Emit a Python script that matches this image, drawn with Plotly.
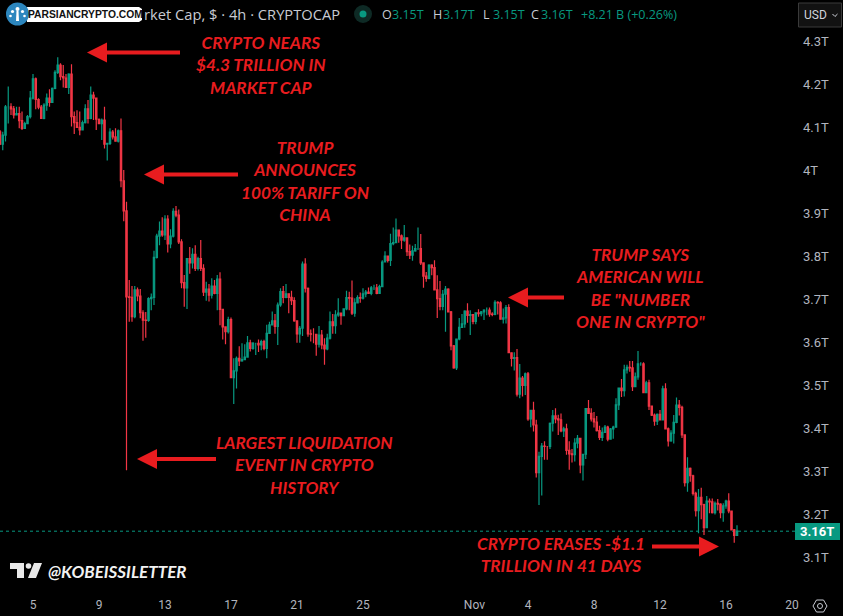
import pandas as pd
import plotly.graph_objects as go

W, H = 843, 616

# 4-hour closes of total crypto market cap, in trillions of USD
closes = [
    4.060,4.081,4.147,4.147,4.142,4.128,4.131,4.115,4.097,4.108,
    4.124,4.167,4.212,4.164,4.146,4.120,4.151,4.167,4.157,4.190,
    4.227,4.244,4.217,4.214,4.192,4.223,4.124,4.110,4.099,4.093,
    4.110,4.142,4.120,4.174,4.167,4.118,4.108,4.116,4.060,4.062,
    4.088,4.077,4.067,4.091,3.975,3.905,3.705,3.704,3.659,3.721,
    3.707,3.668,3.651,3.650,3.701,3.704,3.797,3.846,3.858,3.849,
    3.886,3.828,3.846,3.904,3.895,3.833,3.738,3.726,3.794,3.784,
    3.804,3.771,3.794,3.771,3.716,3.723,3.709,3.730,3.713,3.746,
    3.676,3.635,3.624,3.652,3.517,3.533,3.562,3.556,3.559,3.565,
    3.598,3.585,3.597,3.597,3.593,3.601,3.585,3.620,3.640,3.649,
    3.636,3.686,3.717,3.704,3.712,3.704,3.696,3.649,3.619,3.632,
    3.781,3.725,3.619,3.618,3.618,3.595,3.616,3.593,3.584,3.609,
    3.647,3.638,3.663,3.667,3.661,3.677,3.703,3.702,3.667,3.691,
    3.703,3.702,3.712,3.716,3.713,3.726,3.726,3.713,3.729,3.786,
    3.800,3.790,3.829,3.831,3.860,3.847,3.837,3.842,3.810,3.802,
    3.812,3.817,3.817,3.784,3.753,3.748,3.779,3.773,3.721,3.701,
    3.683,3.711,3.723,3.670,3.591,3.540,3.607,3.634,3.642,3.672,
    3.662,3.664,3.648,3.668,3.666,3.670,3.674,3.674,3.665,3.664,
    3.692,3.691,3.653,3.656,3.680,3.575,3.562,3.564,3.479,3.516,
    3.499,3.526,3.421,3.441,3.407,3.296,3.334,3.358,3.357,3.357,
    3.411,3.428,3.421,3.419,3.393,3.398,3.348,3.340,3.338,3.365,
    3.376,3.314,3.339,3.445,3.434,3.421,3.414,3.394,3.378,3.390,
    3.402,3.374,3.398,3.402,3.454,3.493,3.487,3.535,3.541,3.540,
    3.496,3.519,3.549,3.549,3.482,3.505,3.451,3.430,3.416,3.432,
    3.419,3.491,3.398,3.370,3.388,3.413,3.453,3.448,3.384,3.273,
    3.306,3.289,3.248,3.208,3.239,3.222,3.168,3.230,3.228,3.203,
    3.225,3.223,3.203,3.219,3.230,3.207,3.163,3.150,3.160,
]
highs = [
    4.093,4.089,4.151,4.194,4.155,4.149,4.147,4.147,4.136,4.112,
    4.128,4.184,4.223,4.215,4.167,4.151,4.155,4.178,4.188,4.192,
    4.232,4.262,4.248,4.244,4.223,4.225,4.246,4.136,4.139,4.136,
    4.115,4.153,4.163,4.194,4.182,4.168,4.120,4.120,4.147,4.062,
    4.097,4.093,4.097,4.094,4.120,4.000,3.926,3.744,3.730,3.730,
    3.727,3.723,3.674,3.670,3.704,3.713,3.812,3.852,3.880,3.890,
    3.895,3.895,3.862,3.911,3.916,3.908,3.839,3.756,3.794,3.821,
    3.818,3.825,3.798,3.837,3.781,3.740,3.735,3.748,3.744,3.756,
    3.762,3.677,3.635,3.659,3.657,3.562,3.566,3.590,3.597,3.595,
    3.614,3.605,3.600,3.598,3.606,3.605,3.605,3.640,3.647,3.671,
    3.665,3.692,3.725,3.730,3.735,3.713,3.719,3.704,3.649,3.637,
    3.787,3.795,3.727,3.629,3.632,3.618,3.637,3.628,3.609,3.619,
    3.671,3.665,3.674,3.702,3.668,3.677,3.719,3.717,3.743,3.702,
    3.709,3.715,3.725,3.721,3.727,3.730,3.733,3.735,3.733,3.790,
    3.811,3.800,3.852,3.866,3.887,3.860,3.850,3.872,3.842,3.827,
    3.824,3.828,3.866,3.851,3.784,3.763,3.781,3.781,3.790,3.755,
    3.742,3.721,3.730,3.725,3.672,3.593,3.608,3.656,3.665,3.674,
    3.690,3.674,3.662,3.669,3.676,3.672,3.676,3.680,3.680,3.669,
    3.697,3.695,3.695,3.678,3.686,3.688,3.576,3.576,3.584,3.549,
    3.521,3.529,3.530,3.442,3.461,3.419,3.345,3.365,3.369,3.358,
    3.413,3.442,3.446,3.431,3.434,3.403,3.410,3.369,3.351,3.376,
    3.384,3.376,3.339,3.445,3.465,3.446,3.437,3.428,3.405,3.401,
    3.407,3.405,3.400,3.405,3.469,3.494,3.514,3.547,3.547,3.556,
    3.556,3.529,3.579,3.553,3.553,3.510,3.512,3.452,3.434,3.434,
    3.442,3.498,3.504,3.401,3.395,3.430,3.471,3.465,3.452,3.385,
    3.332,3.308,3.291,3.252,3.258,3.261,3.224,3.242,3.236,3.236,
    3.229,3.235,3.225,3.225,3.233,3.248,3.207,3.165,3.174,
]
lows = [
    4.058,4.046,4.066,4.108,4.128,4.120,4.128,4.097,4.093,4.097,
    4.107,4.120,4.164,4.141,4.141,4.120,4.118,4.138,4.147,4.157,
    4.188,4.223,4.209,4.192,4.192,4.177,4.101,4.084,4.099,4.081,
    4.093,4.108,4.108,4.118,4.116,4.093,4.107,4.070,4.050,4.022,
    4.058,4.071,4.066,4.064,3.960,3.881,3.302,3.647,3.647,3.655,
    3.695,3.655,3.603,3.610,3.647,3.674,3.686,3.794,3.825,3.845,
    3.837,3.808,3.818,3.843,3.890,3.828,3.725,3.682,3.677,3.759,
    3.771,3.765,3.766,3.765,3.707,3.696,3.694,3.701,3.711,3.674,
    3.639,3.606,3.595,3.620,3.517,3.456,3.492,3.544,3.554,3.558,
    3.567,3.578,3.582,3.570,3.577,3.581,3.581,3.562,3.619,3.640,
    3.619,3.593,3.682,3.690,3.702,3.667,3.686,3.647,3.598,3.598,
    3.614,3.715,3.612,3.601,3.597,3.568,3.587,3.583,3.547,3.581,
    3.606,3.619,3.619,3.659,3.640,3.660,3.674,3.674,3.663,3.659,
    3.690,3.691,3.699,3.704,3.712,3.709,3.721,3.711,3.712,3.728,
    3.785,3.785,3.777,3.825,3.849,3.831,3.816,3.833,3.800,3.793,
    3.789,3.810,3.814,3.779,3.726,3.740,3.746,3.755,3.721,3.656,
    3.674,3.674,3.624,3.670,3.581,3.538,3.535,3.604,3.633,3.633,
    3.645,3.616,3.641,3.641,3.659,3.660,3.651,3.662,3.659,3.660,
    3.662,3.664,3.653,3.643,3.643,3.575,3.543,3.534,3.473,3.469,
    3.473,3.477,3.417,3.402,3.392,3.285,3.221,3.243,3.326,3.326,
    3.351,3.392,3.411,3.384,3.390,3.379,3.338,3.303,3.320,3.322,
    3.353,3.295,3.278,3.328,3.434,3.415,3.401,3.392,3.372,3.370,
    3.389,3.369,3.374,3.375,3.401,3.442,3.472,3.473,3.527,3.531,
    3.486,3.495,3.512,3.545,3.481,3.481,3.442,3.428,3.405,3.407,
    3.419,3.419,3.398,3.357,3.368,3.364,3.411,3.429,3.377,3.264,
    3.252,3.275,3.243,3.194,3.155,3.188,3.151,3.168,3.202,3.201,
    3.199,3.208,3.190,3.182,3.212,3.202,3.163,3.133,3.150,
]
first_open = 4.089
last_price = 3.16

price_ticks = [3.1, 3.2, 3.3, 3.4, 3.5, 3.6, 3.7, 3.8, 3.9, 4.0, 4.1, 4.2, 4.3]
price_labels = ["3.1T", "3.2T", "3.3T", "3.4T", "3.5T", "3.6T", "3.7T",
                "3.8T", "3.9T", "4T", "4.1T", "4.2T", "4.3T"]
date_ticks = ["2025-10-05", "2025-10-09", "2025-10-13", "2025-10-17", "2025-10-21",
              "2025-10-25", "2025-10-31 18:00", "2025-11-04", "2025-11-08", "2025-11-12",
              "2025-11-16", "2025-11-20"]
date_labels = ["5", "9", "13", "17", "21", "25", "Nov", "4", "8", "12", "16", "20"]

header_letters = ["O", "H", "L", "C"]
header_values = ["3.15T", "3.17T", "3.15T", "3.16T"]
header_change = "+8.21 B (+0.26%)"

callouts = [
    ("CRYPTO NEARS<br>$4.3 TRILLION IN<br>MARKET CAP", 261, 65),
    ("TRUMP<br>ANNOUNCES<br>100% TARIFF ON<br>CHINA", 305, 181),
    ('TRUMP SAYS<br>AMERICAN WILL<br>BE "NUMBER<br>ONE IN CRYPTO"', 640, 288),
    ("LARGEST LIQUIDATION<br>EVENT IN CRYPTO<br>HISTORY", 304, 465),
    ("CRYPTO ERASES -$1.1<br>TRILLION IN 41 DAYS", 561, 554),
]
# tip x, tail x, y of each callout arrow
arrows = [(87, 180, 52.5), (144, 238, 174.5), (508, 564, 297.5), (137, 216, 459), (719, 652, 546.5)]

TEAL = "#089981"
RED = "#F23645"
CALLOUT_RED = "#E81C1F"
AXIS_GREY = "#B2B5BE"
PLOT_RIGHT, PLOT_BOTTOM = 795, 590
PX_PER_UNIT, TOP_PX, TOP_VALUE = 430, 41, 4.3

dates = pd.date_range("2025-10-03", periods=len(closes), freq="4h")
opens = [first_open] + closes[:-1]


def px(x):
    return x / W


def py(y):
    return 1 - y / H


def path(points, close=True):
    d = "M" + " L".join(f"{px(x):.5f},{py(y):.5f}" for x, y in points)
    return d + (" Z" if close else "")


def circle(cx, cy, r, **style):
    return dict(type="circle", xref="paper", yref="paper", x0=px(cx - r), x1=px(cx + r),
                y0=py(cy + r), y1=py(cy - r), **style)


fig = go.Figure(go.Candlestick(
    x=dates, open=opens, high=highs, low=lows, close=closes,
    increasing=dict(line=dict(color=TEAL, width=1.2), fillcolor=TEAL),
    decreasing=dict(line=dict(color=RED, width=1.2), fillcolor=RED),
    whiskerwidth=0, hoverinfo="skip",
))

shapes = []
annotations = []

# price line for the last close
shapes.append(dict(type="line", xref="paper", yref="y", x0=0, x1=px(PLOT_RIGHT),
                   y0=last_price, y1=last_price, line=dict(color=TEAL, width=1, dash="dot"),
                   layer="below"))

# callout arrows
for tip, tail, y in arrows:
    s = 1 if tail > tip else -1
    base = tip + s * 20
    shapes.append(dict(type="path", xref="paper", yref="paper", fillcolor=CALLOUT_RED,
                       line=dict(width=0),
                       path=path([(tip, y), (base, y - 10), (base, y - 2), (tail, y - 2),
                                  (tail, y + 2), (base, y + 2), (base, y + 10)])))

for text, cx, cy in callouts:
    annotations.append(dict(text=text, x=px(cx), y=py(cy), xref="paper", yref="paper",
                            showarrow=False, xanchor="center", yanchor="middle", align="center",
                            font=dict(family="Lato, sans-serif", size=17.2, color=CALLOUT_RED,
                                      weight="bold", style="italic")))

# header strip
UI_FONT = "Roboto, sans-serif"
annotations.append(dict(text="rket Cap, $ · 4h · CRYPTOCAP", x=px(142), y=py(14.5), xref="paper",
                        yref="paper", showarrow=False, xanchor="left", yanchor="middle",
                        font=dict(family="'Open Sans', sans-serif", size=14.7, color="#C8CBD3")))
shapes.append(circle(363, 14, 9, fillcolor="#0E2A25", line=dict(width=0)))
shapes.append(circle(363, 14, 3.5, fillcolor=TEAL, line=dict(width=0)))
for letter, value, lx in zip(header_letters, header_values, [380, 431, 481, 529]):
    annotations.append(dict(text=letter, x=px(lx), y=py(14.5), xref="paper", yref="paper",
                            showarrow=False, xanchor="left", yanchor="middle",
                            font=dict(family="'Open Sans', sans-serif", size=12.5, color="#C8CBD3")))
    annotations.append(dict(text=value, x=px(lx + 10), y=py(14.5), xref="paper", yref="paper",
                            showarrow=False, xanchor="left", yanchor="middle",
                            font=dict(family="'Open Sans', sans-serif", size=12.5, color=TEAL)))
annotations.append(dict(text=header_change, x=px(579), y=py(14.5), xref="paper", yref="paper",
                        showarrow=False, xanchor="left", yanchor="middle",
                        font=dict(family="'Open Sans', sans-serif", size=12.5, color=TEAL)))

# watermark pill over the start of the title
shapes.append(dict(type="path", xref="paper", yref="paper", fillcolor="#FFFFFF", line=dict(width=0),
                   path=path([(27, 7), (139, 7), (142, 9), (142, 20), (139, 22), (27, 22)])))
shapes.append(circle(17.5, 14, 11.5, fillcolor="#2C86BE", line=dict(width=0)))
for cx, cy, r in [(17.5, 9, 2), (12.5, 11.5, 1.6), (22.5, 11.5, 1.6), (10.5, 16, 1.3), (24.5, 16, 1.3)]:
    shapes.append(circle(cx, cy, r, fillcolor="#FFFFFF", line=dict(width=0)))
shapes.append(dict(type="path", xref="paper", yref="paper", fillcolor="#FFFFFF", line=dict(width=0),
                   path=path([(16.5, 11), (18.5, 11), (19, 21), (16, 21)])))
annotations.append(dict(text="PARSIANCRYPTO.COM", x=px(85), y=py(14.7), xref="paper", yref="paper",
                        showarrow=False, xanchor="center", yanchor="middle",
                        font=dict(family="Liberation Sans", size=10.3, color="#111111", weight="bold")))

# currency selector
shapes.append(dict(type="rect", xref="paper", yref="paper", x0=px(798.5), x1=px(841.5), y0=py(27), y1=py(3),
                   fillcolor="#121212", line=dict(color="#3A3A3A", width=1)))
annotations.append(dict(text="USD", x=px(802), y=py(15), xref="paper", yref="paper", showarrow=False,
                        xanchor="left", yanchor="middle",
                        font=dict(family=UI_FONT, size=12, color="#D1D4DC")))
shapes.append(dict(type="path", xref="paper", yref="paper", line=dict(color="#D1D4DC", width=1),
                   path=path([(832.5, 14), (835, 16.5), (837.5, 14)], close=False)))

# last-price tag
shapes.append(dict(type="rect", xref="paper", yref="paper", x0=px(795), x1=px(840), y0=py(540), y1=py(523),
                   fillcolor=TEAL, line=dict(width=0)))
annotations.append(dict(text="3.16T", x=px(817), y=py(531.5), xref="paper", yref="paper", showarrow=False,
                        xanchor="center", yanchor="middle",
                        font=dict(family=UI_FONT, size=13, color="#FFFFFF", weight="bold")))

# branding mark and handle
shapes.append(dict(type="path", xref="paper", yref="paper", fillcolor="#E8E8E8", line=dict(width=0),
                   path=path([(10, 563), (24, 563), (24, 578), (17, 578), (17, 569), (10, 569)])))
shapes.append(circle(28.5, 566, 2.8, fillcolor="#E8E8E8", line=dict(width=0)))
shapes.append(dict(type="path", xref="paper", yref="paper", fillcolor="#E8E8E8", line=dict(width=0),
                   path=path([(34, 563), (42, 563), (36, 578), (28, 578)])))
annotations.append(dict(text="@KOBEISSILETTER", x=px(46), y=py(571), xref="paper", yref="paper",
                        showarrow=False, xanchor="left", yanchor="middle",
                        font=dict(family="Lato, sans-serif", size=17, color="#F2F2F2",
                                  weight="bold", style="italic")))

# settings icon
shapes.append(dict(type="path", xref="paper", yref="paper", line=dict(color="#C8CBD3", width=1),
                   path=path([(813, 606), (816.5, 600), (823.5, 600), (827, 606), (823.5, 612), (816.5, 612)])))
shapes.append(circle(820, 606, 2.5, line=dict(color="#C8CBD3", width=1)))

fig.update_layout(
    width=W, height=H, margin=dict(l=0, r=0, t=0, b=0),
    paper_bgcolor="#000000", plot_bgcolor="#000000", showlegend=False,
    shapes=shapes, annotations=annotations,
    xaxis=dict(type="date", domain=[0, px(PLOT_RIGHT)], automargin=False,
               range=[pd.Timestamp("2025-10-03"), pd.Timestamp("2025-10-03") + pd.Timedelta(days=PLOT_RIGHT / 16.5)],
               rangeslider=dict(visible=False), showgrid=False, zeroline=False, showline=False,
               ticks="", tickmode="array", tickvals=date_ticks, ticktext=date_labels,
               ticklabelstandoff=6, tickfont=dict(family=UI_FONT, size=12, color=AXIS_GREY)),
    yaxis=dict(side="right", domain=[1 - PLOT_BOTTOM / H, 1], automargin=False,
               range=[TOP_VALUE - (PLOT_BOTTOM - TOP_PX) / PX_PER_UNIT, TOP_VALUE + TOP_PX / PX_PER_UNIT],
               showgrid=False, zeroline=False, showline=False, ticks="",
               tickmode="array", tickvals=price_ticks, ticktext=price_labels,
               ticklabelstandoff=7, tickfont=dict(family=UI_FONT, size=13, color=AXIS_GREY)),
)

fig.write_html("out.html", config={"displayModeBar": False})
